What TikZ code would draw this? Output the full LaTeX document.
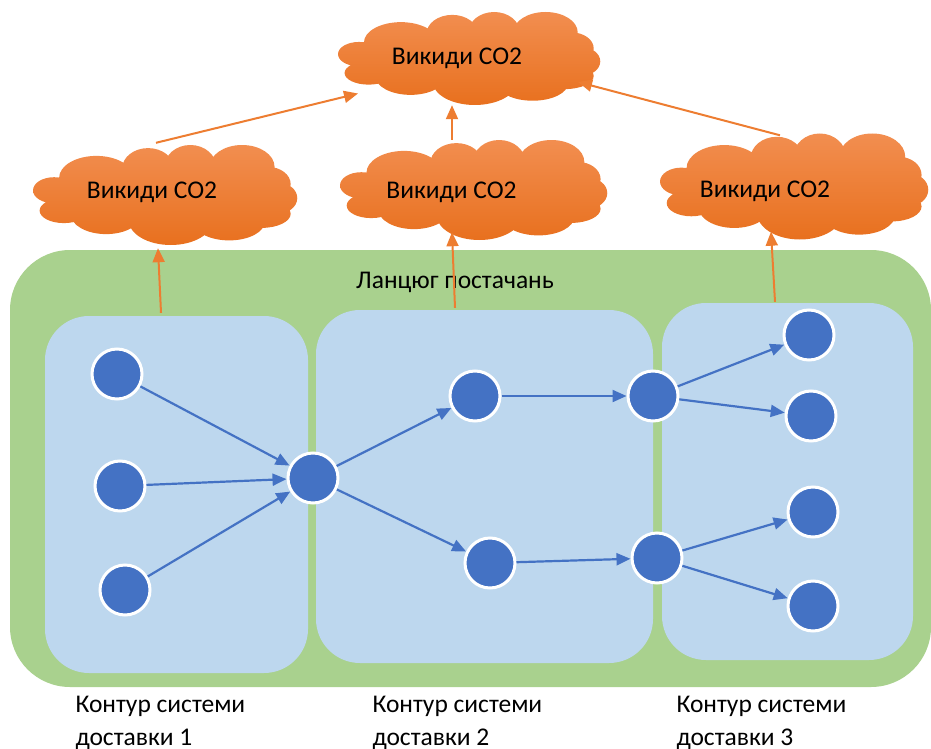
\documentclass[tikz,border=0pt]{standalone}
\usepackage{fontspec}
\setmainfont{Carlito}
\usetikzlibrary{arrows.meta,calc}
\definecolor{chaingreen}{HTML}{A9D18E}
\definecolor{zoneblue}{HTML}{BDD7EE}
\definecolor{pointblue}{HTML}{4472C4}
\definecolor{emitorange}{HTML}{ED7D31}
\definecolor{cloudtop}{HTML}{F28E50}
\definecolor{cloudbot}{HTML}{E8701E}
\tikzset{
  txt/.style={font=\fontsize{25.5}{33}\selectfont, text=black},
  zone/.style={fill=zoneblue, draw=none, rounded corners=44pt, inner sep=0pt},
  point/.style={circle, fill=pointblue, draw=white, line width=3pt, minimum size=50pt, inner sep=0pt},
  flow/.style={draw=pointblue, line width=2.2pt, -{Triangle[length=14pt,width=12pt]}},
  emit/.style={draw=emitorange, line width=2pt, -{Triangle[length=14pt,width=12pt]}},
  cloudbox/.style={draw=none, inner sep=0pt},
  puffs/.style={top color=cloudtop, bottom color=cloudbot, draw=none},
}
% Cloud outline as a union of puffs, in a unit box centred on #1, sized #2 x #3 (pt)
\newcommand\puffcloud[3]{%
  \begin{scope}[shift={#1}, x=#2pt, y=#3pt]
    \path[puffs]
      (-0.420, 0.047) ellipse [x radius=0.080, y radius=0.131]
      (-0.383,-0.156) ellipse [x radius=0.092, y radius=0.125]
      (-0.260, 0.172) ellipse [x radius=0.141, y radius=0.219]
      (-0.064, 0.266) ellipse [x radius=0.098, y radius=0.203]
      ( 0.096, 0.281) ellipse [x radius=0.098, y radius=0.219]
      ( 0.292, 0.281) ellipse [x radius=0.123, y radius=0.219]
      ( 0.390, 0.109) ellipse [x radius=0.086, y radius=0.172]
      ( 0.427,-0.031) ellipse [x radius=0.074, y radius=0.156]
      ( 0.366,-0.188) ellipse [x radius=0.110, y radius=0.141]
      ( 0.243,-0.266) ellipse [x radius=0.135, y radius=0.188]
      ( 0.022,-0.250) ellipse [x radius=0.160, y radius=0.250]
      (-0.223,-0.188) ellipse [x radius=0.135, y radius=0.203]
      ( 0.000, 0.000) ellipse [x radius=0.400, y radius=0.340];
  \end{scope}}
\begin{document}
\begin{tikzpicture}[x=1pt, y=-1pt]
\useasboundingbox (0,0) rectangle (931,749);

% supply chain area
\node[fill=chaingreen, rounded corners=60pt, minimum width=921pt, minimum height=437pt, inner sep=0pt]
  (chain) at (470.5,468.5) {};
\node[txt] (chainlbl) at (455,282) {Ланцюг постачань};

% delivery zones
\node[zone, minimum width=263pt, minimum height=357pt] (z1) at (176.5,494.5) {};
\node[zone, minimum width=337pt, minimum height=353pt] (z2) at (484.5,486.5) {};
\node[zone, minimum width=251pt, minimum height=357pt] (z3) at (787.5,481.5) {};

% emission clouds
\puffcloud{(469,58.5)}{262}{93}
\puffcloud{(165,195)}{264}{100}
\puffcloud{(473.5,190)}{267}{100}
\puffcloud{(794,186.5)}{268}{106}
\node[cloudbox, minimum width=262pt, minimum height=93pt,
  label={[txt, xshift=-12pt]center:Викиди CO2}] (ctop) at (469,58.5) {};
\node[cloudbox, minimum width=264pt, minimum height=100pt,
  label={[txt, xshift=-13pt, yshift=3pt]center:Викиди CO2}] (cl) at (165,195) {};
\node[cloudbox, minimum width=267pt, minimum height=100pt,
  label={[txt, xshift=-22pt, yshift=-2pt]center:Викиди CO2}] (cm) at (473.5,190) {};
\node[cloudbox, minimum width=268pt, minimum height=106pt,
  label={[txt, xshift=-29pt, yshift=-5pt]center:Викиди CO2}] (cr) at (794,186.5) {};

% nodes of the chain
\node[point] (a1) at (117,374) {};
\node[point] (a2) at (120,486) {};
\node[point] (a3) at (125,590) {};
\node[point] (hub) at (313,478) {};
\node[point] (b1) at (475,396) {};
\node[point] (b2) at (490,563) {};
\node[point] (c1) at (653,396) {};
\node[point] (c2) at (657,558) {};
\node[point] (d1) at (809,335) {};
\node[point] (d2) at (811,416) {};
\node[point] (d3) at (813,512) {};
\node[point] (d4) at (813,606) {};

% material flows
\draw[flow] (a1) -- (hub);
\draw[flow] (a2) -- (hub);
\draw[flow] (a3) -- (hub);
\draw[flow] (hub) -- (b1);
\draw[flow] (hub) -- (b2);
\draw[flow] (b1) -- (c1);
\draw[flow] (b2) -- (c2);
\draw[flow] (c1) -- (d1);
\draw[flow] (c1) -- (d2);
\draw[flow] (c2) -- (d3);
\draw[flow] (c2) -- (d4);

% emissions rising from each zone into its cloud
\coordinate (e1) at ($(cl.south)+(-7,3)$);
\coordinate (e2) at ($(cm.south)+(-21.5,-8)$);
\coordinate (e3) at ($(cr.south)+(-23,-8)$);
\draw[emit] ($(z1.north)+(-15.5,-3)$) -- (e1);
\draw[emit] ($(z2.north)+(-29.5,-2)$) -- (e2);
\draw[emit] ($(z3.north)+(-12.5,-1)$) -- (e3);

% clouds feeding the overall emissions
\coordinate (t1) at ($(ctop.center)+(-111,35)$);
\coordinate (t2) at ($(ctop.south)+(-17,0)$);
\coordinate (t3) at ($(ctop.center)+(109,23.5)$);
\draw[emit] ($(cl.north)+(-9,-2)$) -- (t1);
\draw[emit] ($(cm.north)+(-21.5,0)$) -- (t2);
\draw[emit] ($(cr.north)+(-14,2)$) -- (t3);

% zone captions
\node[txt, align=left, anchor=north west] (l1) at (72,693) {Контур системи\\доставки 1};
\node[txt, align=left, anchor=north west] (l2) at (369,693) {Контур системи\\доставки 2};
\node[txt, align=left, anchor=north west] (l3) at (673,693) {Контур системи\\доставки 3};
\end{tikzpicture}
\end{document}
